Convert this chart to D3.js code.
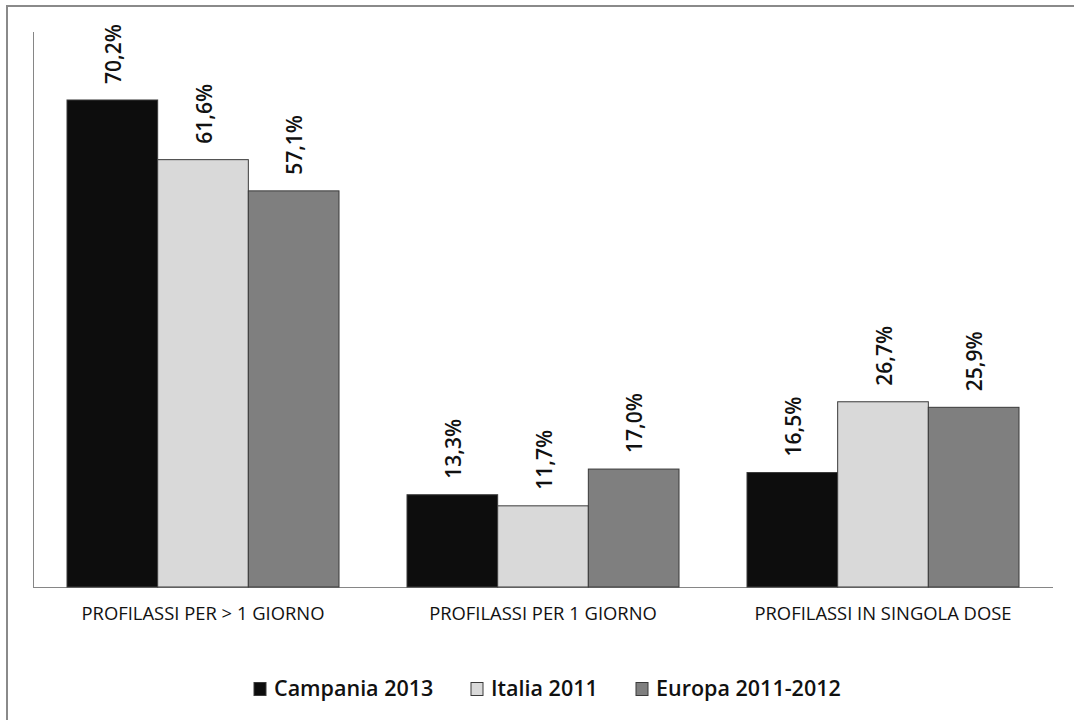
<!DOCTYPE html>
<html><head><meta charset="utf-8">
<script src="https://cdn.jsdelivr.net/npm/d3@7"></script>
<style>body{margin:0;background:#fff}svg{display:block}</style>
</head><body>
<script>
const categories = ["PROFILASSI PER > 1 GIORNO", "PROFILASSI PER 1 GIORNO", "PROFILASSI IN SINGOLA DOSE"];
const seriesNames = ["Campania 2013", "Italia 2011", "Europa 2011-2012"];
const campania = [70.2, 13.3, 16.5];
const italia = [61.6, 11.7, 26.7];
const europa = [57.1, 17.0, 25.9];
const seriesValues = [campania, italia, europa];
const colors = ["#0d0d0d", "#d9d9d9", "#7f7f7f"];

(function(){
const W = 1074, H = 720;
const svg = d3.select("body").append("svg").attr("width", W).attr("height", H);
const font = "'Open Sans', 'DejaVu Sans', sans-serif";

// outer frame
svg.append("path").attr("d", `M7,${H} V6 H${W}`).attr("fill", "none").attr("stroke", "#8a8a8a").attr("stroke-width", 2);

const pLeft = 33, pRight = 1053, pTop = 32, pBottom = 587;
const x0 = d3.scaleBand().domain(categories).range([pLeft, pRight]).paddingInner(0.2).paddingOuter(0.1);
const x1 = d3.scaleBand().domain(seriesNames).range([0, x0.bandwidth()]);
const y = d3.scaleLinear().domain([0, 80]).range([pBottom, pTop]);

svg.append("line").attr("x1", pLeft + 0.5).attr("x2", pLeft + 0.5).attr("y1", pTop).attr("y2", pBottom).attr("stroke", "#868686");
svg.append("line").attr("x1", pLeft).attr("x2", pRight).attr("y1", pBottom + 0.5).attr("y2", pBottom + 0.5).attr("stroke", "#868686");

const groups = svg.selectAll("g.grp").data(categories).enter().append("g")
  .attr("transform", d => `translate(${x0(d)},0)`);

groups.each(function(cat, ci) {
  const g = d3.select(this);
  seriesNames.forEach((s, si) => {
    const v = seriesValues[si][ci];
    g.append("rect").attr("x", x1(s)).attr("y", y(v)).attr("width", x1.bandwidth()).attr("height", pBottom - y(v))
      .attr("fill", colors[si]).attr("stroke", "#3a3a3a").attr("stroke-width", 1);
    const cx = x1(s) + x1.bandwidth() / 2;
    const ty = y(v) - 16;
    g.append("text").attr("transform", `translate(${cx + 8.5},${ty}) rotate(-90)`)
      .attr("font-family", font).attr("font-size", 21).attr("font-weight", 600).attr("fill", "#111")
      .text(v.toFixed(1).replace(".", ",") + "%");
  });
});

svg.selectAll("text.cat").data(categories).enter().append("text")
  .attr("x", d => x0(d) + x0.bandwidth() / 2).attr("y", 620).attr("text-anchor", "middle")
  .attr("font-family", font).attr("font-size", 18.4).attr("fill", "#111").text(d => d);

const legendX = [254, 471, 636];
const lg = svg.selectAll("g.leg").data(seriesNames).enter().append("g")
  .attr("transform", (d, i) => `translate(${legendX[i]},0)`);
lg.append("rect").attr("x", 0).attr("y", 682.5).attr("width", 12).attr("height", 13)
  .attr("fill", (d, i) => colors[i]).attr("stroke", "#3a3a3a");
lg.append("text").attr("x", 20).attr("y", 696).attr("font-family", font).attr("font-size", 21.5).attr("font-weight", 600)
  .attr("fill", "#111").text(d => d);
})();
</script>
</body></html>
